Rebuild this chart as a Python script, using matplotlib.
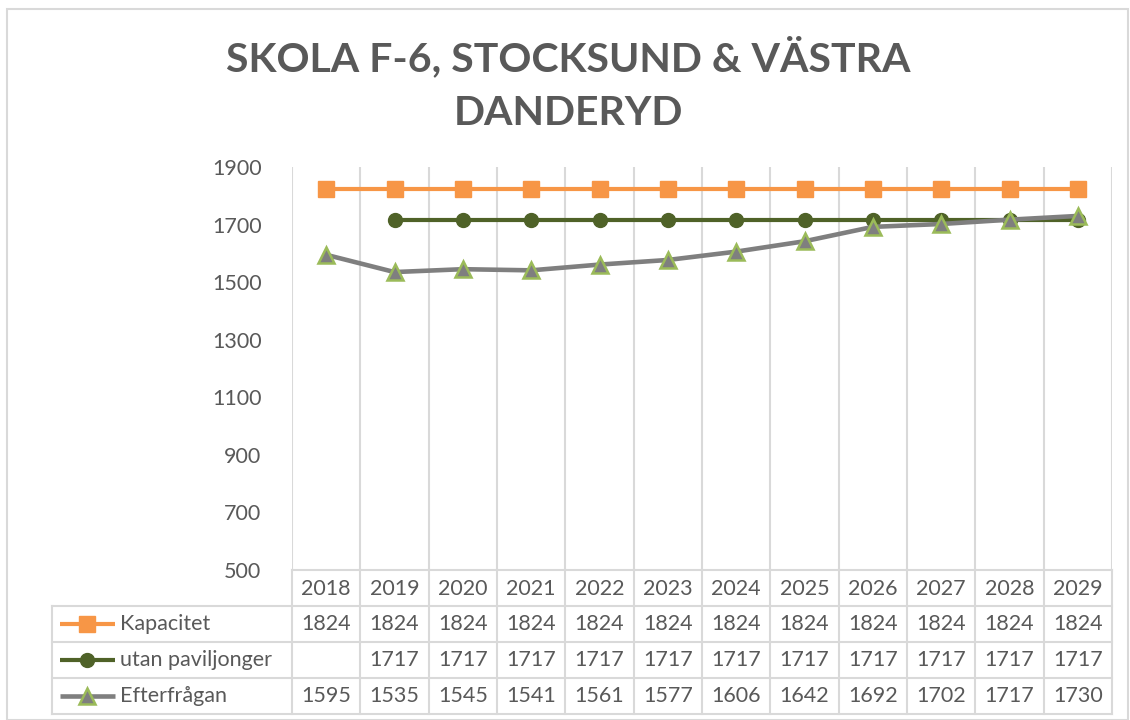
import numpy as np
import matplotlib.pyplot as plt
from matplotlib.patches import Rectangle

# data
years = ["2018", "2019", "2020", "2021", "2022", "2023",
         "2024", "2025", "2026", "2027", "2028", "2029"]
kapacitet = [1824] * 12
utan_paviljonger = [np.nan] + [1717] * 11
efterfragan = [1595, 1535, 1545, 1541, 1561, 1577, 1606, 1642, 1692, 1702, 1717, 1730]
series_names = ["Kapacitet", "utan paviljonger", "Efterfrågan"]
yticks = [500, 700, 900, 1100, 1300, 1500, 1700, 1900]

txt = "#595959"
grid = "#D9D9D9"
fs = 15.5
styles = [
    dict(color="#F79646", lw=3.0, marker="s", ms=11.5, mfc="#F79646", mec="#F79646"),
    dict(color="#4F6228", lw=3.0, marker="o", ms=10, mfc="#4F6228", mec="#4F6228"),
    dict(color="#7F7F7F", lw=3.3, marker="^", ms=12, mfc="#7F7F7F", mec="#9BBB59", mew=1.8),
]

plt.rcParams["font.family"] = ["Lato", "DejaVu Sans"]

W, H = 1130, 720
fig = plt.figure(figsize=(W / 100, H / 100), dpi=100)

# outer chart frame
fig.patches.append(Rectangle((7 / W, 0), 1121 / W, 711 / H, transform=fig.transFigure,
                             fill=False, ec=grid, lw=1.5))

# title (spaced out a little like the original)
fig.text(0.503, 1 - 84 / H, "SKOLA F-6, STOCKSUND & VÄSTRA\nDANDERYD",
         ha="center", va="center", fontsize=29.5, fontweight="bold", color=txt,
         linespacing=1.55)

x = np.arange(len(years))
ax = fig.add_axes([292 / W, 1 - 570 / H, 820 / W, (570 - 167) / H])
data = [kapacitet, utan_paviljonger, efterfragan]
for vals, st, z in zip(data, styles, [3, 4, 5]):
    ax.plot(x, vals, zorder=z, **st)
ax.set_xlim(-0.5, len(years) - 0.5)
ax.set_ylim(500, 1900)
ax.set_yticks(yticks)
ax.set_yticklabels([str(t) for t in yticks])
ax.set_xticks([])
ax.set_xticks(np.arange(-0.5, len(years)), minor=True)
ax.tick_params(axis="x", which="both", length=0)
ax.tick_params(axis="y", length=0, pad=22, labelsize=fs, labelcolor=txt)
ax.grid(axis="x", which="minor", color=grid, lw=1.5)
for s in ["top", "right", "left"]:
    ax.spines[s].set_visible(False)
ax.spines["bottom"].set_color(grid)
ax.spines["bottom"].set_linewidth(1.5)

# data table below the plot
tab = fig.add_axes([292 / W, 1 - 714 / H, 820 / W, 144 / H])
tab.set_xlim(-0.5, len(years) - 0.5)
tab.set_ylim(4, 0)
tab.axis("off")
left = -0.5 - 240 / (820 / 12)
for b in np.arange(-0.5, len(years)):
    tab.plot([b, b], [0, 4], color=grid, lw=1.5, clip_on=False)
tab.plot([left, left], [1, 4], color=grid, lw=1.5, clip_on=False)
for r in [1, 2, 3, 4]:
    tab.plot([left, len(years) - 0.5], [r, r], color=grid, lw=1.5, clip_on=False)

for i, yr in enumerate(years):
    tab.text(i, 0.52, yr, ha="center", va="center", fontsize=fs, color=txt)

for r, (name, vals, st) in enumerate(zip(series_names, data, styles), start=1):
    yc = r + 0.5
    tab.plot([left + 0.11, left + 0.92], [yc, yc], color=st["color"], lw=st["lw"],
             clip_on=False, solid_capstyle="butt")
    tab.plot([left + 0.51], [yc], ls="none", marker=st["marker"], ms=st["ms"],
             mfc=st["mfc"], mec=st["mec"], mew=st.get("mew", 1), clip_on=False)
    tab.text(left + 0.99, yc, name, ha="left", va="center", fontsize=fs, color=txt)
    for i, v in enumerate(vals):
        if not np.isnan(v):
            tab.text(i, yc, str(int(v)), ha="center", va="center", fontsize=fs, color=txt)

fig.savefig("out.png", dpi=100, facecolor="white")
